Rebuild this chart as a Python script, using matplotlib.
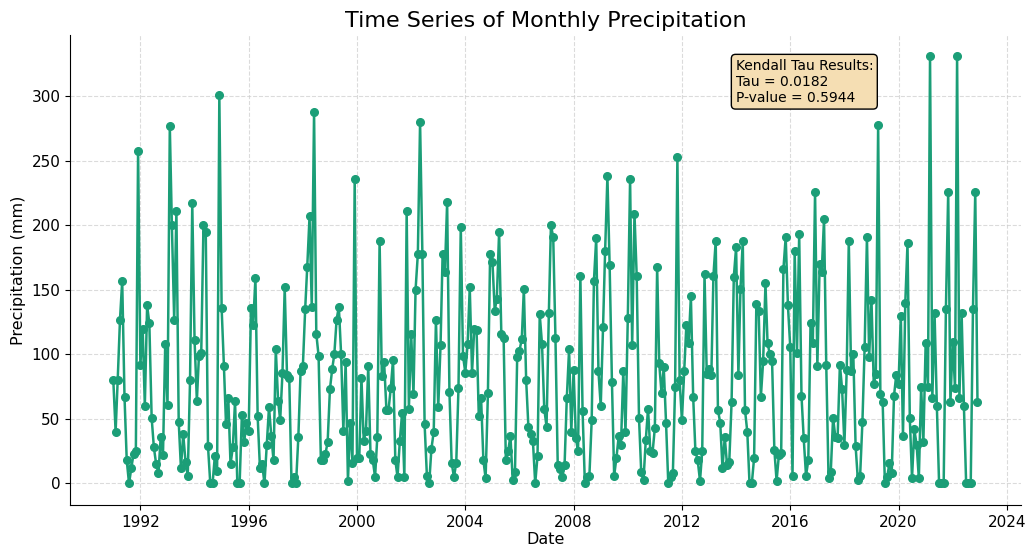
import pandas as pd
import matplotlib
matplotlib.use('Agg')
import matplotlib.pyplot as plt

# monthly precipitation (mm), Jan 1991 - Dec 2022
precip = [
    80, 40, 80, 127, 157, 67, 18, 0, 12, 23, 25, 258,
    92, 120, 60, 138, 124, 51, 28, 15, 8, 36, 22, 108,
    61, 277, 200, 127, 211, 48, 12,
    38, 17, 6, 80, 217, 111, 64, 99, 101, 200, 195, 29, 0, 0, 21, 10, 301, 136, 91, 46,
    66, 15, 28, 64, 0, 0, 53, 32, 47, 41, 136, 123, 159,
    52, 12,
    15, 0, 30, 59, 37, 18, 104, 64, 49, 86, 152, 84, 82, 0, 5, 0, 36, 87, 91, 135,
    168, 207, 137, 288, 116, 99, 18, 18, 23, 32, 73, 89, 100, 127, 137,
    100, 41, 94, 2, 47, 16, 236, 20, 20, 82, 33, 41, 91, 23, 18, 5, 36, 188, 83, 94,
    57, 57, 74, 96, 18, 5, 33, 55, 5, 211, 58, 116,
    69, 150, 178, 280, 178, 46, 6, 0, 27, 40, 127, 59, 107, 178, 164, 218, 71, 16, 5, 16,
    74, 199, 99, 86, 108, 152, 86, 120, 119, 52, 66, 18, 4, 70,
    178, 172, 134, 143, 195, 116, 113, 18, 25, 37, 3, 9, 98, 103, 112, 151, 80, 44, 38, 33,
    0, 21, 131, 108, 58, 44, 132, 200, 191, 113,
    14, 11, 5, 14, 66, 104, 40, 88, 35, 25, 161, 56, 0, 5, 6, 49, 157, 190, 87, 60,
    121, 180, 238, 169, 79, 6, 20, 37, 30, 87, 40, 128, 236, 107, 209,
    161, 51, 9, 3, 34, 58, 25, 24, 43, 168, 93, 70, 90, 47, 0, 5, 8, 75, 253, 80,
    49, 87, 123, 109, 145, 67, 25, 18, 2, 25, 162, 85, 89, 84, 161, 188,
    57, 47, 12, 36, 14, 17, 63, 160, 183, 84, 151, 188, 57, 40, 0, 0, 20, 139, 134, 67,
    95, 155, 109, 100, 95, 26, 2, 22, 24, 166, 191,
    138, 106, 6, 180, 101, 193, 68, 35, 6, 18, 124, 109, 226, 91, 170, 164, 205, 92, 4, 9,
    51, 36, 35, 92, 73, 30, 88, 188, 87, 100, 29, 3,
    6, 48, 106, 191, 98, 142, 77, 85, 278, 69, 63, 0, 5, 16, 8, 68, 84, 77, 130, 37,
    140, 186, 51, 4, 42, 30, 4, 75, 32, 109, 75, 331,
    66, 132, 60, 0, 0, 0, 135, 226, 63, 110, 74, 331,
    66, 132, 60, 0, 0, 0, 135, 226, 63,
]

tau = 0.0182
p_value = 0.5944

dates = pd.date_range('1991-01-01', periods=len(precip), freq='MS')

fig, ax = plt.subplots(figsize=(10.31, 5.56), dpi=100)
ax.plot(dates, precip, color='#1b9e77', marker='o', markersize=5.5, linewidth=1.8)

ax.set_title('Time Series of Monthly Precipitation', fontsize=16)
ax.set_xlabel('Date', fontsize=11.5, labelpad=2)
ax.set_ylabel('Precipitation (mm)', fontsize=11.5)
ax.tick_params(labelsize=11)
ax.grid(True, linestyle='--', color='#cccccc', alpha=0.7)
ax.spines['top'].set_visible(False)
ax.spines['right'].set_visible(False)

# Kendall tau annotation box
ax.text(0.70, 0.95, f'Kendall Tau Results:\nTau = {tau:.4f}\nP-value = {p_value:.4f}',
        transform=ax.transAxes, fontsize=10, va='top', ha='left',
        bbox=dict(boxstyle='round', facecolor='wheat', alpha=1.0, edgecolor='black'))

plt.subplots_adjust(left=0.068, right=0.99, top=0.937, bottom=0.092)
plt.savefig('out.png', dpi=100)
